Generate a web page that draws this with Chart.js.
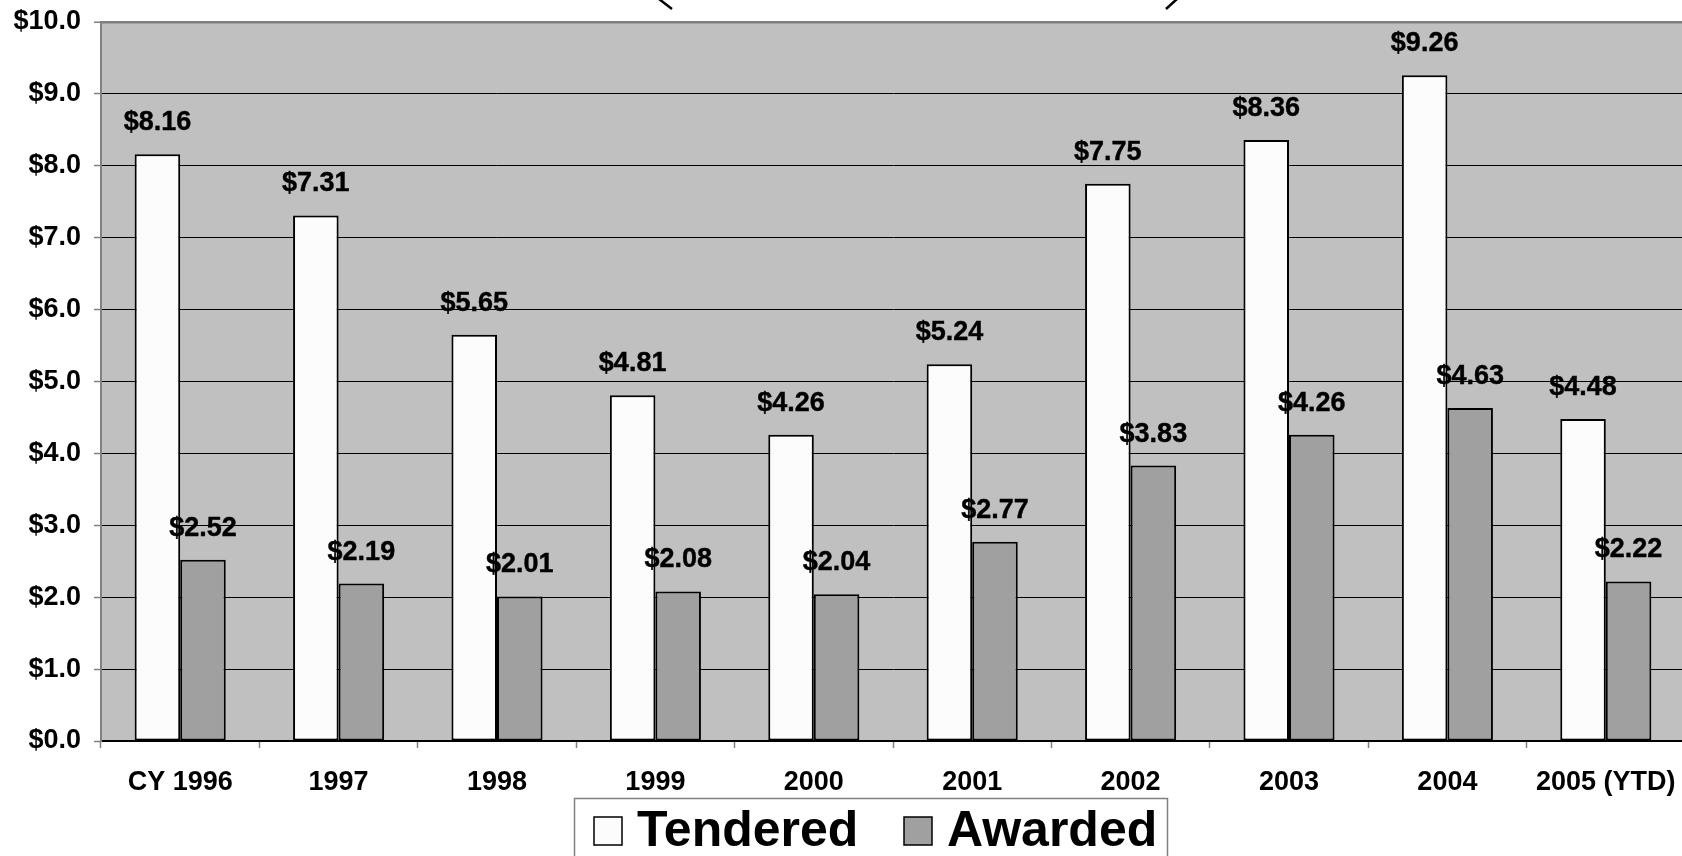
<!DOCTYPE html>
<html>
<head>
<meta charset="utf-8">
<script src="https://cdn.jsdelivr.net/npm/chart.js@4.4.1/dist/chart.umd.min.js"></script>
<style>
  html, body { margin: 0; padding: 0; background: #ffffff; overflow: hidden; }
  #wrap { position: relative; width: 1685px; height: 856px; }
</style>
</head>
<body>
<div id="wrap"><canvas id="c"></canvas></div>
<script>
const categories = ['CY 1996', '1997', '1998', '1999', '2000', '2001', '2002', '2003', '2004', '2005 (YTD)'];
const tendered = [8.16, 7.31, 5.65, 4.81, 4.26, 5.24, 7.75, 8.36, 9.26, 4.48];
const awarded  = [2.52, 2.19, 2.01, 2.08, 2.04, 2.77, 3.83, 4.26, 4.63, 2.22];
const seriesNames = ['Tendered', 'Awarded'];
const yMin = 0, yMax = 10, yStep = 1;

const FONT = '"Liberation Sans", Arial, sans-serif';

const plotBg = {
  id: 'plotBg',
  beforeDraw(chart) {
    const {ctx, chartArea: a} = chart;
    ctx.save();
    ctx.fillStyle = '#C0C0C0';
    ctx.fillRect(a.left, a.top, a.right - a.left, a.bottom - a.top);
    ctx.restore();
  }
};

const valueLabels = {
  id: 'valueLabels',
  afterDatasetsDraw(chart) {
    const ctx = chart.ctx;
    ctx.save();
    ctx.font = 'bold 27px ' + FONT;
    ctx.fillStyle = '#000';
    ctx.strokeStyle = '#000';
    ctx.lineWidth = 0.4;
    ctx.textAlign = 'center';
    ctx.textBaseline = 'alphabetic';
    chart.data.datasets.forEach((ds, i) => {
      chart.getDatasetMeta(i).data.forEach((bar, j) => {
        const t = '$' + ds.data[j].toFixed(2);
        ctx.fillText(t, bar.x, bar.y - 24);
        ctx.strokeText(t, bar.x, bar.y - 24);
      });
    });
    ctx.restore();
  }
};

const boxLegend = {
  id: 'boxLegend',
  afterDraw(chart) {
    const ctx = chart.ctx;
    ctx.save();
    ctx.fillStyle = '#fff';
    ctx.fillRect(574, 798, 593, 80);
    ctx.strokeStyle = '#808080';
    ctx.lineWidth = 1.5;
    ctx.strokeRect(574.5, 798.5, 593, 80);
    ctx.font = 'bold 50px ' + FONT;
    ctx.textBaseline = 'alphabetic';
    ctx.textAlign = 'left';
    const xs = [594, 904];
    chart.data.datasets.forEach((ds, i) => {
      const x = xs[i];
      ctx.fillStyle = ds.backgroundColor;
      ctx.fillRect(x, 817, 28, 28);
      ctx.strokeStyle = '#000';
      ctx.lineWidth = 1.5;
      ctx.strokeRect(x, 817, 28, 28);
      ctx.fillStyle = '#000';
      ctx.fillText(ds.label, x + 43, 846);
    });
    ctx.strokeStyle = '#000';
    ctx.lineWidth = 2.5;
    ctx.beginPath();
    ctx.moveTo(659, -1); ctx.lineTo(672, 9);
    ctx.moveTo(1177, -1); ctx.lineTo(1166, 9);
    ctx.stroke();
    ctx.restore();
  }
};

new Chart(document.getElementById('c'), {
  type: 'bar',
  data: {
    labels: categories,
    datasets: [
      { label: seriesNames[0], data: tendered, backgroundColor: '#FCFCFC', borderColor: '#000', borderWidth: 2, borderSkipped: false },
      { label: seriesNames[1], data: awarded,  backgroundColor: '#A0A0A0', borderColor: '#000', borderWidth: 2, borderSkipped: false }
    ]
  },
  options: {
    responsive: true,
    maintainAspectRatio: false,
    animation: false,
    events: [],
    layout: { padding: { top: 22, right: 0, bottom: 0, left: 0 } },
    datasets: { bar: { categoryPercentage: 0.575, barPercentage: 1.0 } },
    plugins: { legend: { display: false }, tooltip: { enabled: false }, title: { display: false } },
    scales: {
      x: {
        grid: { display: true, offset: true, drawOnChartArea: false, drawTicks: true, tickLength: 7, tickColor: '#808080', tickWidth: 1.5 },
        border: { display: true, color: '#000', width: 1.5 },
        ticks: { color: '#000', font: { family: FONT, size: 27, weight: 'bold' }, padding: 18, maxRotation: 0, autoSkip: false },
        afterFit(s) { s.height = 115; s.paddingLeft = 0; s.paddingRight = 0; }
      },
      y: {
        min: yMin, max: yMax,
        grid: {
          color: (c) => c.tick && c.tick.value === yMax ? '#808080' : '#000',
          lineWidth: (c) => c.tick && c.tick.value === yMax ? 2.5 : 1,
          tickLength: 7, tickColor: '#808080', tickWidth: 1.5
        },
        border: { display: true, color: '#808080', width: 2 },
        ticks: {
          stepSize: yStep, color: '#000', padding: 13,
          font: { family: FONT, size: 27, weight: 'bold' },
          callback: (v) => '$' + Number(v).toFixed(1)
        },
        afterFit(s) { s.width = 101; s.paddingTop = 0; s.paddingBottom = 0; }
      }
    }
  },
  plugins: [plotBg, valueLabels, boxLegend]
});
</script>
</body>
</html>
